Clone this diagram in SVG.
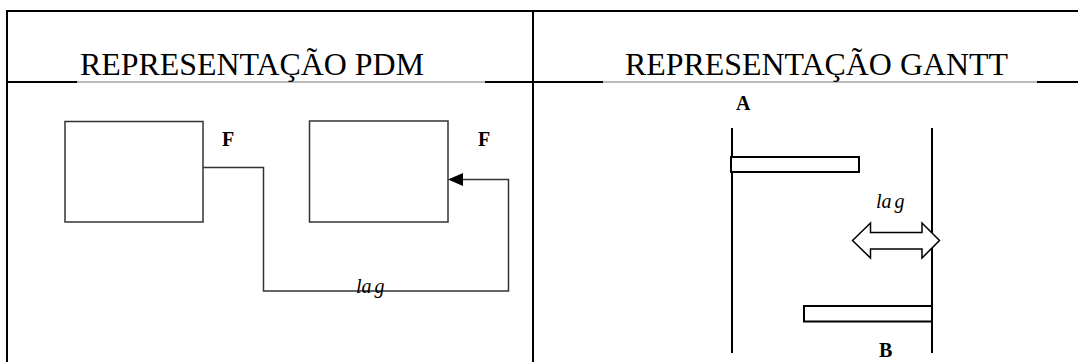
<svg xmlns="http://www.w3.org/2000/svg" width="1078" height="362" viewBox="0 0 1078 362">
  <style>
    .rule { stroke: #000; stroke-width: 2; fill: none; }
    .soft { stroke: #777; stroke-width: 1; fill: none; }
    .title { font-family: "Liberation Serif", "Times New Roman", serif; font-size: 32px; fill: #000; }
    .tag { font-family: "Liberation Serif", "Times New Roman", serif; font-size: 20px; font-weight: bold; fill: #000; }
    .lag { font-family: "Liberation Serif", "Times New Roman", serif; font-size: 20px; font-style: italic; fill: #000; }
    .box { stroke: #333; stroke-width: 1.5; fill: #fff; }
    .wire { stroke: #333; stroke-width: 1.5; fill: none; }
    .axis { stroke: #000; stroke-width: 2; fill: none; }
    .bar { stroke: #000; stroke-width: 2; fill: #fff; }
  </style>
  <defs>
    <marker id="tri" viewBox="0 0 10 10" refX="10" refY="5" markerWidth="10" markerHeight="8.5" markerUnits="userSpaceOnUse" orient="auto">
      <path d="M0,0 L10,5 L0,10 z" fill="#000"/>
    </marker>
    <marker id="head" viewBox="0 0 10 10" refX="10" refY="5" markerWidth="15" markerHeight="13" markerUnits="userSpaceOnUse" orient="auto">
      <path d="M0,0 L10,5 L0,10 z" fill="#000"/>
    </marker>
  </defs>

  <rect width="1078" height="362" fill="#fff"/>

  <!-- table frame -->
  <g id="table">
    <line class="rule" x1="6" y1="11" x2="1078" y2="11"/>
    <line class="rule" x1="7" y1="10" x2="7" y2="362"/>
    <line class="rule" x1="533" y1="10" x2="533" y2="362"/>
    <line class="rule" x1="6" y1="82" x2="77" y2="82"/>
    <line class="soft" x1="77" y1="82" x2="485" y2="82"/>
    <line class="rule" x1="485" y1="82" x2="534" y2="82"/>
    <line class="rule" x1="532" y1="82" x2="603" y2="82"/>
    <line class="soft" x1="603" y1="82" x2="1037" y2="82"/>
    <line class="rule" x1="1037" y1="82" x2="1078" y2="82"/>
    <text class="title" x="80" y="75" textLength="344" lengthAdjust="spacingAndGlyphs">REPRESENTAÇÃO PDM</text>
    <text class="title" x="625" y="75" textLength="383" lengthAdjust="spacingAndGlyphs">REPRESENTAÇÃO GANTT</text>
  </g>

  <!-- PDM side -->
  <g id="task-1">
    <rect class="box" x="65" y="121.5" width="138" height="100.5"/>
    <text class="tag" x="222" y="146">F</text>
  </g>
  <g id="task-2">
    <rect class="box" x="309.5" y="121" width="138.5" height="101"/>
    <text class="tag" x="478" y="146">F</text>
  </g>
  <g id="connectors">
    <polyline class="wire" points="203,167.5 263.5,167.5 263.5,291 508.5,291 508.5,179.5 463,179.5"/>
    <path d="M448,179.5 L463,173 L463,186 z" fill="#000"/>
  </g>
  <text class="lag" x="356" y="293">la<tspan dx="3">g</tspan></text>

  <!-- Gantt side -->
  <g id="gantt">
    <line class="axis" x1="732" y1="128" x2="732" y2="353"/>
    <line class="axis" x1="932" y1="128" x2="932" y2="353"/>
    <text class="tag" x="736" y="110">A</text>
    <rect class="bar" x="731" y="157" width="128" height="15"/>
    <rect class="bar" x="804" y="306" width="128" height="15.5"/>
    <text class="tag" x="879" y="357">B</text>
    <text class="lag" x="876" y="208">la<tspan dx="3">g</tspan></text>
    <polygon points="852.5,240.5 870.5,223 870.5,232.5 922,232.5 922,223 939.5,240.5 922,258 922,249 870.5,249 870.5,258" fill="#fff" stroke="#000" stroke-width="1.5" stroke-linejoin="miter"/>
  </g>
</svg>
